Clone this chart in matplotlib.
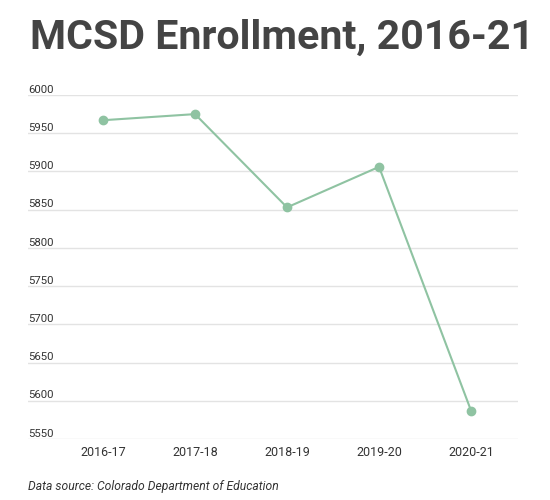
import matplotlib.pyplot as plt

years = ["2016-17", "2017-18", "2018-19", "2019-20", "2020-21"]
enrollment = [5967, 5975, 5853, 5906, 5587]
y_ticks = [5550, 5600, 5650, 5700, 5750, 5800, 5850, 5900, 5950, 6000]

plt.rcParams["font.family"] = ["Roboto", "DejaVu Sans"]

fig = plt.figure(figsize=(5.5, 5), dpi=100)
# axes box spans gridline extent: x 28..518, y 95..439 (6000..5550)
ax = fig.add_axes([28 / 550, 1 - 439 / 500, 490 / 550, 344 / 500])

x = list(range(len(years)))
ax.plot(x, enrollment, color="#8fc3a2", linewidth=1.5, marker="o",
        markersize=6, zorder=3)

ax.set_ylim(5550, 6000)
ax.set_xlim(-0.815, 4.51)
ax.set_yticks(y_ticks)
ax.set_yticklabels([])
ax.grid(axis="y", color="#e3e3e3", linewidth=1)
ax.set_axisbelow(True)
for s in ax.spines.values():
    s.set_visible(False)
ax.tick_params(axis="y", length=0)
ax.tick_params(axis="x", length=0, pad=5, labelsize=9, labelcolor="#333333")
ax.set_xticks(x)
ax.set_xticklabels(years)

# y labels sit just above each gridline, left aligned
for v in y_ticks:
    ax.text(-0.815, v + 3, str(v), ha="left", va="baseline", fontsize=8.2,
            color="#333333")

fig.text(30 / 550, 1 - 49 / 500, "MCSD Enrollment, 2016-21", ha="left",
         va="baseline", fontsize=29.6, fontweight="bold", color="#444444")
fig.text(28 / 550, 1 - 490 / 500, "Data source: Colorado Department of Education",
         ha="left", va="baseline", fontsize=8.7, style="italic", color="#333333")

fig.savefig("out.png", dpi=100)
